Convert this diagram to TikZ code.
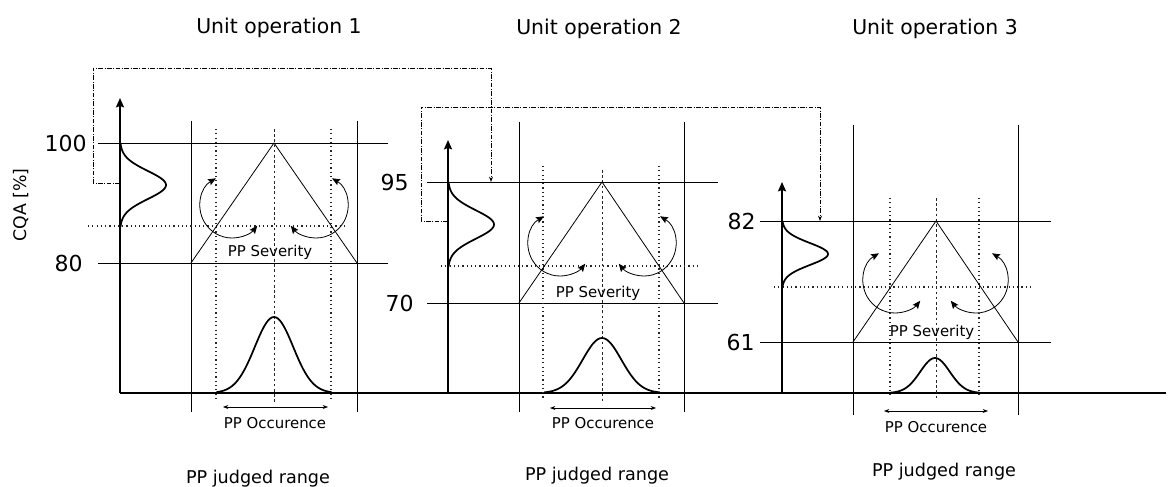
\documentclass[tikz,border=0pt]{standalone}
\usepackage{fontspec}
\setmainfont{DejaVu Sans}
\usetikzlibrary{arrows.meta}

\tikzset{
  thinline/.style={line width=0.6pt},
  axisline/.style={line width=1.4pt, -{Stealth[length=7pt,width=6pt,inset=1pt]}},
  baseline/.style={line width=1.4pt},
  dotline/.style={line width=0.9pt, dash pattern=on 0.9pt off 2.3pt, black!85},
  midline/.style={line width=0.7pt, dash pattern=on 2pt off 1.9pt, black!85},
  bell/.style={line width=1.3pt, smooth, samples=61, domain=-3:3},
  swing/.style={line width=0.6pt, {Stealth[length=6pt,width=5pt,inset=1pt]}-{Stealth[length=6pt,width=5pt,inset=1pt]}},
  spread/.style={line width=0.5pt, {Stealth[length=4pt,width=3pt]}-{Stealth[length=4pt,width=3pt]}},
  link/.style={line width=0.6pt, dash pattern=on 3.5pt off 1.2pt on 0.6pt off 1.2pt, -{Stealth[length=4pt,width=3pt]}},
  title/.style={font=\fontsize{15.3}{18}\selectfont, anchor=base, inner sep=0pt},
  valuelabel/.style={font=\fontsize{16.5}{19}\selectfont, anchor=east, inner sep=0pt},
  note/.style={font=\fontsize{11.2}{13}\selectfont, inner sep=0pt},
  rangelabel/.style={font=\fontsize{13.2}{15}\selectfont, anchor=base, inner sep=0pt},
}

\begin{document}
\begin{tikzpicture}[x=0.75pt,y=0.75pt]
\useasboundingbox (0,0) rectangle (1170,486);

% common time axis
\draw[baseline] (120,93) -- (1166,93);

% quality axis label
\node[font=\fontsize{13}{15}\selectfont, rotate=90, inner sep=0pt] (cqa) at (21,281) {CQA [\%]};

% ---------------- unit operation 1 ----------------
\node[title] (t1) at (279,452) {Unit operation 1};
\draw[axisline] (120,93) -- (120,388);
\draw[thinline] (98,343) -- (388,343);
\draw[thinline] (98,223) -- (388,223);
\node[valuelabel] (v1hi) at (87,343) {100};
\node[valuelabel] (v1lo) at (83,223) {80};
\draw[thinline] (191,365) -- (191,74);
\draw[thinline] (357,365) -- (357,74);
\draw[dotline] (216,357) -- (216,88);
\draw[dotline] (331,357) -- (331,88);
\draw[midline] (274,357) -- (274,84);
\draw[dotline] (88,260) -- (347,260);
\draw[thinline] (191,223) -- (274,343) -- (357,223);
\draw[bell] plot ({120+46*exp(-\x*\x/2)}, {301+14*\x});
\draw[bell] plot ({274+19.2*\x}, {93+76*exp(-\x*\x/2)});
\draw[swing] (232,280) ++(120:32) arc[start angle=120, end angle=322, radius=32];
\draw[swing] (316,280) ++(60:32) arc[start angle=60, end angle=-142, radius=32];
\node[note, anchor=base] (s1) at (270,229) {PP Severity};
\coordinate (o1a) at (223,79);
\coordinate (o1b) at (328,79);
\draw[spread] (o1a) -- (o1b);
\node[note] (oc1) at (275,63) {PP Occurence};
\node[rangelabel] (r1) at (258,3) {PP judged range};

% ---------------- unit operation 2 ----------------
\node[title] (t2) at (599,451) {Unit operation 2};
\draw[axisline] (448,93) -- (448,346);
\draw[thinline] (427,304) -- (718,304);
\draw[thinline] (427,183) -- (718,183);
\node[valuelabel] (v2hi) at (409,304) {95};
\node[valuelabel] (v2lo) at (414,183) {70};
\draw[thinline] (519,364) -- (519,74);
\draw[thinline] (684,364) -- (684,74);
\draw[dotline] (543,320) -- (543,88);
\draw[dotline] (659,320) -- (659,88);
\draw[midline] (602,316) -- (602,84);
\draw[dotline] (441,220) -- (698,220);
\draw[thinline] (519,183) -- (602,304) -- (684,183);
\draw[bell] plot ({448+46*exp(-\x*\x/2)}, {261.5+14.2*\x});
\draw[bell] plot ({602+19.3*\x}, {93+55*exp(-\x*\x/2)});
\draw[swing] (560,242) ++(120:32) arc[start angle=120, end angle=322, radius=32];
\draw[swing] (644,242) ++(60:32) arc[start angle=60, end angle=-142, radius=32];
\node[note, anchor=base] (s2) at (598,189) {PP Severity};
\coordinate (o2a) at (550,78);
\coordinate (o2b) at (656,78);
\draw[spread] (o2a) -- (o2b);
\node[note] (oc2) at (603,63) {PP Occurence};
\node[rangelabel] (r2) at (597,6) {PP judged range};

% ---------------- unit operation 3 ----------------
\node[title] (t3) at (935,451) {Unit operation 3};
\draw[axisline] (782,93) -- (782,304);
\draw[thinline] (760,265) -- (1051,265);
\draw[thinline] (760,144) -- (1051,144);
\node[valuelabel] (v3hi) at (756,265) {82};
\node[valuelabel] (v3lo) at (755,144) {61};
\draw[thinline] (853,361) -- (853,71);
\draw[thinline] (1018,361) -- (1018,71);
\draw[dotline] (890,288) -- (890,88);
\draw[dotline] (979,288) -- (979,88);
\draw[midline] (936,288) -- (936,86);
\draw[dotline] (774,199) -- (1032,199);
\draw[thinline] (853,144) -- (936,265) -- (1018,144);
\draw[bell] plot ({782+46*exp(-\x*\x/2)}, {232+11*\x});
\draw[bell] plot ({935+14.8*\x}, {93+35*exp(-\x*\x/2)});
\draw[swing] (895,205) ++(120:32) arc[start angle=120, end angle=322, radius=32];
\draw[swing] (976,205) ++(60:32) arc[start angle=60, end angle=-142, radius=32];
\node[note, anchor=base] (s3) at (932,150) {PP Severity};
\coordinate (o3a) at (884,75);
\coordinate (o3b) at (988,75);
\draw[spread] (o3a) -- (o3b);
\node[note] (oc3) at (936,59) {PP Occurence};
\node[rangelabel] (r3) at (944,10) {PP judged range};

% ---------------- hand-over links between operations ----------------
\coordinate (src1) at (120,303);
\coordinate (bend1) at (93,418);
\coordinate (dst1) at (491,304);
\draw[link] (src1) -| (bend1) -| (dst1);

\coordinate (src2) at (448,265);
\coordinate (bend2) at (421,379);
\coordinate (dst2) at (820,265);
\draw[link] (src2) -| (bend2) -| (dst2);
\end{tikzpicture}
\end{document}
